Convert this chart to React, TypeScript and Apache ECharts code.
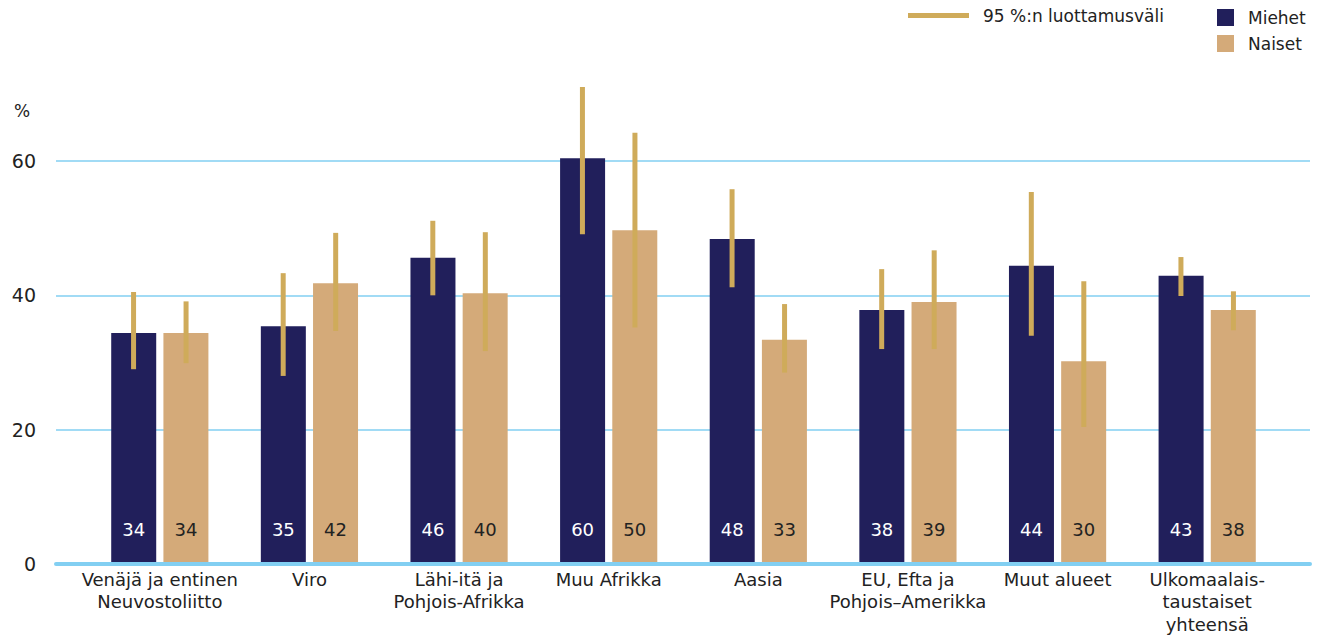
import React, { useEffect, useRef } from "react";
import * as echarts from "echarts";

const categories = [
  "Venäjä ja entinen\nNeuvostoliitto",
  "Viro",
  "Lähi-itä ja\nPohjois-Afrikka",
  "Muu Afrikka",
  "Aasia",
  "EU, Efta ja\nPohjois–Amerikka",
  "Muut alueet",
  "Ulkomaalais-\ntaustaiset\nyhteensä",
];
const yTicks = [0, 20, 40, 60];
const men = [34.4, 35.4, 45.6, 60.4, 48.4, 37.8, 44.4, 42.9];
const women = [34.4, 41.8, 40.3, 49.7, 33.4, 39.0, 30.2, 37.8];
const menLow = [29.0, 28.0, 40.0, 49.1, 41.2, 32.0, 34.0, 39.9];
const menHigh = [40.5, 43.3, 51.1, 71.0, 55.8, 43.9, 55.4, 45.7];
const womenLow = [29.9, 34.7, 31.7, 35.2, 28.5, 32.0, 20.4, 34.8];
const womenHigh = [39.1, 49.3, 49.4, 64.2, 38.7, 46.7, 42.1, 40.6];

const NAVY = "#211f5b";
const TAN = "#d4aa79";
const GOLD = "#cfab5a";
const GRID = "#82cff2";
const TEXT = "#222222";
const FONT = "'DejaVu Sans', sans-serif";

export default function App() {
  const ref = useRef<HTMLDivElement>(null);
  useEffect(() => {
    const chart = echarts.init(ref.current!, null, { renderer: "svg" });
    const ciData: number[][] = [];
    categories.forEach((_, i) => {
      ciData.push([i, menLow[i], menHigh[i], 0]);
      ciData.push([i, womenLow[i], womenHigh[i], 1]);
    });
    const labelCommon = {
      show: true,
      position: "insideBottom",
      distance: 26,
      fontSize: 18,
      fontFamily: FONT,
      formatter: (p: any) => String(Math.round(p.value)),
    };
    const option: any = {
      animation: false,
      textStyle: { fontFamily: FONT },
      title: {
        text: "%",
        left: 14,
        top: 102,
        padding: 0,
        textStyle: { fontSize: 17, fontWeight: "normal", color: TEXT, fontFamily: FONT },
      },
      legend: [
        {
          data: [{ name: "95 %:n luottamusväli", icon: "rect" }],
          left: 908,
          top: 7,
          padding: 0,
          itemWidth: 61,
          itemHeight: 5,
          textStyle: { fontSize: 17, color: TEXT, padding: [0, 0, 0, 9], fontFamily: FONT },
          selectedMode: false,
        },
        {
          data: [
            { name: "Miehet", icon: "rect" },
            { name: "Naiset", icon: "rect" },
          ],
          orient: "vertical",
          left: 1217,
          top: 9,
          padding: 0,
          itemWidth: 17,
          itemHeight: 17,
          itemGap: 9,
          textStyle: { fontSize: 17, color: TEXT, padding: [0, 0, 0, 9], fontFamily: FONT },
          selectedMode: false,
        },
      ],
      grid: [
        { left: 56, right: 15, top: 161, bottom: 72, outerBoundsMode: "none", containLabel: false },
        { left: 85, right: 43, top: 161, bottom: 72, outerBoundsMode: "none", containLabel: false },
      ],
      xAxis: [
        {
          gridIndex: 0,
          type: "value",
          min: 0,
          max: 1,
          show: true,
          z: 10,
          axisLine: { show: true, onZero: false, lineStyle: { color: GRID, width: 4 } },
          axisTick: { show: false },
          axisLabel: { show: false },
          splitLine: { show: false },
        },
        {
          gridIndex: 1,
          type: "category",
          data: categories,
          axisLine: { show: false },
          axisTick: { show: false },
          axisLabel: {
            interval: 0,
            margin: 4,
            fontSize: 18,
            lineHeight: 22.5,
            color: TEXT,
            fontFamily: FONT,
          },
        },
      ],
      yAxis: [
        {
          gridIndex: 0,
          type: "value",
          min: yTicks[0],
          max: yTicks[yTicks.length - 1],
          interval: 20,
          axisLine: { show: false },
          axisTick: { show: false },
          axisLabel: { margin: 20, fontSize: 19, color: TEXT, fontFamily: FONT },
          splitLine: { show: true, lineStyle: { color: GRID, width: 1.5 } },
        },
        {
          gridIndex: 1,
          type: "value",
          min: 0,
          max: 60,
          show: false,
        },
      ],
      series: [
        {
          name: "Miehet",
          type: "bar",
          xAxisIndex: 1,
          yAxisIndex: 1,
          data: men,
          barWidth: 45,
          barGap: "16%",
          clip: false,
          itemStyle: { color: NAVY },
          label: { ...labelCommon, color: "#ffffff" },
        },
        {
          name: "Naiset",
          type: "bar",
          xAxisIndex: 1,
          yAxisIndex: 1,
          data: women,
          barWidth: 45,
          barGap: "16%",
          clip: false,
          itemStyle: { color: TAN },
          label: { ...labelCommon, color: TEXT },
        },
        {
          name: "95 %:n luottamusväli",
          type: "custom",
          xAxisIndex: 1,
          yAxisIndex: 1,
          clip: false,
          z: 5,
          itemStyle: { color: GOLD },
          encode: { x: 0, y: [1, 2] },
          data: ciData,
          renderItem: (params: any, api: any) => {
            const idx = api.value(0);
            const lo = api.coord([idx, api.value(1)]);
            const hi = api.coord([idx, api.value(2)]);
            const which = api.value(3);
            const off = which === 0 ? -26.25 : 26.25;
            const w = 5;
            return {
              type: "rect",
              shape: { x: lo[0] + off - w / 2, y: hi[1], width: w, height: lo[1] - hi[1] },
              style: { fill: GOLD },
            };
          },
        },
      ],
    };
    chart.setOption(option);
    return () => chart.dispose();
  }, []);
  return (
    <div
      ref={ref}
      style={{ position: "absolute", left: 0, top: 0, width: 1325, height: 636 }}
    />
  );
}
